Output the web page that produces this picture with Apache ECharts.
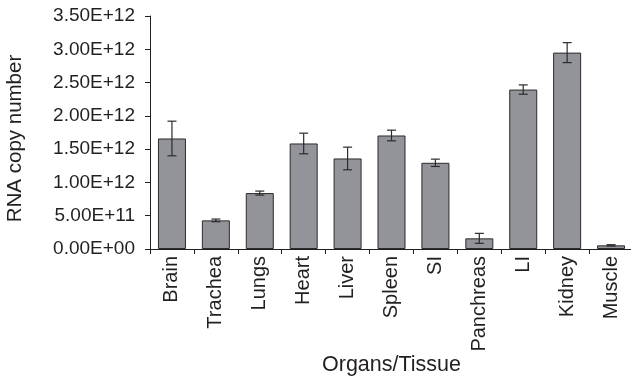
<!DOCTYPE html>
<html>
<head>
<meta charset="utf-8">
<script src="https://cdn.jsdelivr.net/npm/echarts@6/dist/echarts.min.js"></script>
<style>html,body{margin:0;padding:0;background:#fff;}#c{width:631px;height:378px;}</style>
</head>
<body>
<div id="c"></div>
<script>
const categories = ['Brain','Trachea','Lungs','Heart','Liver','Spleen','SI','Panchreas','LI','Kidney','Muscle'];
const values = [1.66e12, 0.43e12, 0.84e12, 1.585e12, 1.36e12, 1.705e12, 1.295e12, 0.16e12, 2.395e12, 2.95e12, 0.055e12];
const errors = [0.26e12, 0.02e12, 0.03e12, 0.155e12, 0.17e12, 0.08e12, 0.055e12, 0.075e12, 0.07e12, 0.15e12, 0.01e12];
const yTickLabels = ['0.00E+00','5.00E+11','1.00E+12','1.50E+12','2.00E+12','2.50E+12','3.00E+12','3.50E+12'];

const font = 'Liberation Sans, Arial, sans-serif';
const textColor = '#231f20';
const chart = echarts.init(document.getElementById('c'), null, {renderer: 'canvas'});
chart.setOption({
  animation: false,
  backgroundColor: '#fff',
  grid: {left: 150, top: 16, bottom: 129, right: -2, containLabel: false, outerBoundsMode: 'none'},
  xAxis: {
    type: 'category',
    data: categories,
    name: 'Organs/Tissue',
    nameLocation: 'middle',
    nameGap: 105,
    nameMoveOverlap: false,
    nameTextStyle: {fontFamily: font, fontSize: 21.5, color: textColor},
    axisLine: {lineStyle: {color: '#231f20', width: 1}},
    axisTick: {show: true, inside: false, length: 5, alignWithLabel: false, lineStyle: {color: '#231f20'}},
    axisLabel: {rotate: 90, margin: 7, fontFamily: font, fontSize: 20, color: textColor, interval: 0}
  },
  yAxis: {
    type: 'value',
    min: 0, max: 3.5e12, interval: 0.5e12,
    name: 'RNA copy number',
    nameLocation: 'middle',
    nameGap: 124,
    nameMoveOverlap: false,
    nameTextStyle: {fontFamily: font, fontSize: 20.5, color: textColor, padding: [0, 12, 0, 0]},
    axisLine: {show: true, lineStyle: {color: '#231f20', width: 1}},
    axisTick: {show: true, inside: false, length: 5, lineStyle: {color: '#231f20'}},
    splitLine: {show: false},
    axisLabel: {
      margin: 15, fontFamily: font, fontSize: 19, color: textColor,
      formatter: function (v) { return yTickLabels[Math.round(v / 0.5e12)]; }
    }
  },
  series: [
    {
      type: 'bar',
      data: values,
      barWidth: 28,
      itemStyle: {color: '#939499', borderColor: '#2b2b2b', borderWidth: 1}
    },
    {
      type: 'custom',
      data: values.map((v, i) => [i, v - errors[i], v + errors[i]]),
      z: 10,
      renderItem: function (params, api) {
        const x = api.value(0);
        const lo = api.coord([x, api.value(1)]);
        const hi = api.coord([x, api.value(2)]);
        const hw = 4.5;
        const style = {stroke: '#2b2b2b', lineWidth: 1.2, fill: null};
        return {
          type: 'group',
          children: [
            {type: 'line', shape: {x1: hi[0], y1: hi[1], x2: lo[0], y2: lo[1]}, style: style},
            {type: 'line', shape: {x1: hi[0] - hw, y1: hi[1], x2: hi[0] + hw, y2: hi[1]}, style: style},
            {type: 'line', shape: {x1: lo[0] - hw, y1: lo[1], x2: lo[0] + hw, y2: lo[1]}, style: style}
          ]
        };
      }
    }
  ]
});
</script>
</body>
</html>
